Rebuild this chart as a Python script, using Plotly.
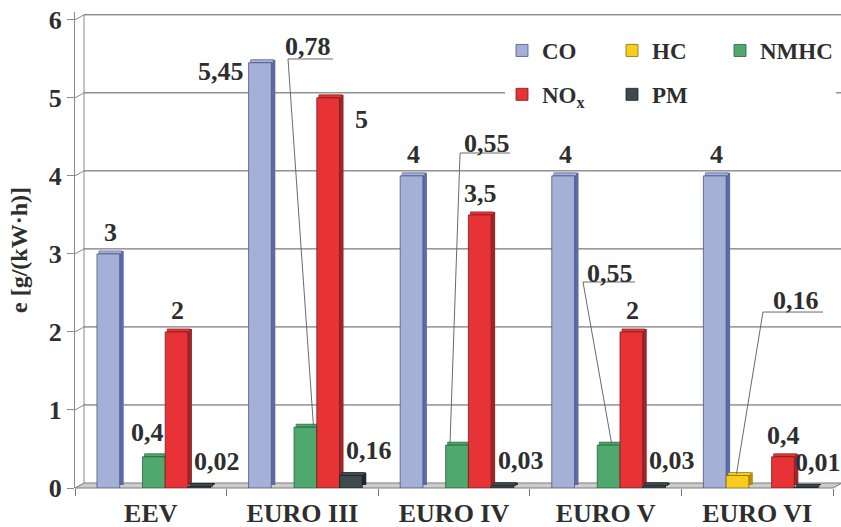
import plotly.graph_objects as go

# ---- data -------------------------------------------------------------
categories = ["EEV", "EURO III", "EURO IV", "EURO V", "EURO VI"]
co = [3, 5.45, 4, 4, 4]
hc = [None, None, None, None, 0.16]
nmhc = [0.4, 0.78, 0.55, 0.55, None]
nox = [2, 5, 3.5, 2, 0.4]
pm = [0.02, 0.16, 0.03, 0.03, 0.01]
y_tick_values = [0, 1, 2, 3, 4, 5, 6]

# key, legend text, values, front colour, side colour, edge colour
series = [
    ("CO", "CO", co, "#a4b0d6", "#5d6aa8", "#4b568c"),
    ("HC", "HC", hc, "#f9cd1d", "#b98f12", "#8a6a0a"),
    ("NMHC", "NMHC", nmhc, "#4fa96f", "#2e7a49", "#2a5e3a"),
    ("NOx", "NO<sub>x</sub>", nox, "#e83336", "#9c2729", "#7a1e20"),
    ("PM", "PM", pm, "#3d4b4f", "#1e2729", "#1a2224"),
]
# legend column of each series (two rows of entries)
legend_of = {"CO": "legend", "NOx": "legend", "HC": "legend2", "PM": "legend2",
             "NMHC": "legend3"}

# ---- page geometry ----------------------------------------------------
W, H = 841, 527
ML, MR, MT, MB = 75, 8, 12, 39
plot_w = W - ML - MR
plot_h = H - MT - MB
y_max = 6.1
px_per_cat = plot_w / len(categories)
px_per_unit = plot_h / y_max
Y0 = MT + plot_h  # pixel row of value 0

slot = 0.15        # bar width in category units
shift = 0.02       # group nudged right for the perspective
depth_x = 4 / px_per_cat
depth_y = 3 / px_per_unit
wall_dx, wall_dy = 9, 5  # offset of the back wall in pixels

FONT = "Liberation Serif"
INK = "#2e2e2e"


def xp(px):
    return (px - ML) / plot_w


def yp(py):
    return (Y0 - py) / plot_h


def fmt(v):
    return f"{v:g}".replace(".", ",")


def bold(s):
    return f"<b>{s}</b>"


def bar_x(k, i):
    return i + (k - 2) * slot + shift


fig = go.Figure()

# ---- bars: side face, top face, then front face per series -------------
for k, (key, label, vals, front, side, edge) in enumerate(series):
    off = (k - 2) * slot + shift - slot / 2
    fig.add_bar(
        x=categories, y=vals, base=depth_y, offset=off + depth_x, width=slot,
        marker=dict(color=side, line=dict(width=0)),
        showlegend=False, hoverinfo="skip",
    )
    fig.add_bar(
        x=categories,
        y=[depth_y if v is not None else None for v in vals],
        base=[v if v is not None else 0 for v in vals],
        offset=off + depth_x / 2, width=slot,
        marker=dict(color=front, line=dict(color=edge, width=0.6)),
        showlegend=False, hoverinfo="skip",
    )
    fig.add_bar(
        x=categories, y=vals, offset=off, width=slot, name=bold(label),
        marker=dict(color=front, line=dict(color=edge, width=0.8)),
        legend=legend_of[key], legendgroup=key,
    )

# ---- value labels -------------------------------------------------------
# placement: (xanchor, xshift px, yshift px) relative to the front top of a bar
default_place = {
    "CO": ("center", 2, 21),
    "HC": ("center", 0, 21),
    "NMHC": ("center", -6, 24),
    "NOx": ("center", 1, 21),
    "PM": ("center", 18, 25),
}
special_place = {
    ("CO", 1): ("right", -(slot * px_per_cat) / 2 - 3, -9),
    ("NOx", 1): ("left", (slot * px_per_cat) / 2 + 13, -22),
    ("PM", 4): ("center", 12, 25),
}
# labels set apart with a rule and a leader line:
# (text x, text y, rule x0, rule x1, rule y, tip offset px)
callouts = {
    ("NMHC", 1): (1.037, 5.652, 0.905, 1.202, 5.498, 8),
    ("NMHC", 2): (2.218, 4.421, 2.040, 2.369, 4.293, -7),
    ("NMHC", 3): (3.029, 2.755, 2.851, 3.194, 2.640, 3),
    ("HC", 4): (4.256, 2.409, 4.038, 4.434, 2.255, -1),
}

annotations = []
shapes = []
label_font = dict(family=FONT, size=26, color=INK)

for k, (key, label, vals, front, side, edge) in enumerate(series):
    for i, v in enumerate(vals):
        if v is None:
            continue
        bx = bar_x(k, i)
        if (key, i) in callouts:
            tx, ty, r0, r1, ry, tip = callouts[(key, i)]
            annotations.append(dict(
                x=tx, y=ty, xref="x", yref="y", text=bold(fmt(v)), showarrow=False,
                xanchor="center", yanchor="middle", font=label_font,
            ))
            shapes.append(dict(type="line", xref="x", yref="y", x0=r0, x1=r1,
                               y0=ry, y1=ry, line=dict(color="#6a6a6a", width=1),
                               layer="above"))
            shapes.append(dict(type="line", xref="x", yref="y", x0=r0, y0=ry,
                               x1=bx + tip / px_per_cat, y1=v + depth_y / 2,
                               line=dict(color="#6a6a6a", width=1), layer="above"))
            continue
        anchor, dx, dy = special_place.get((key, i), default_place[key])
        annotations.append(dict(
            x=bx, y=v, xref="x", yref="y", text=bold(fmt(v)), showarrow=False,
            xanchor=anchor, yanchor="middle", xshift=dx, yshift=dy, font=label_font,
        ))

# ---- floor, back wall and its grid ---------------------------------------
right_px = ML + plot_w
shapes.append(dict(
    type="path", xref="paper", yref="paper", layer="below",
    path=(f"M{xp(ML)},{yp(Y0)} L{xp(right_px)},{yp(Y0)} "
          f"L{xp(right_px + wall_dx)},{yp(Y0 - wall_dy)} "
          f"L{xp(ML + wall_dx)},{yp(Y0 - wall_dy)} Z"),
    fillcolor="#cdcdcd", line=dict(color="#7a7a7a", width=1),
))
top_px = Y0 - max(y_tick_values) * px_per_unit
shapes.append(dict(type="line", xref="paper", yref="paper", layer="below",
                   x0=xp(ML + wall_dx), x1=xp(ML + wall_dx),
                   y0=yp(Y0 - wall_dy), y1=yp(top_px - wall_dy),
                   line=dict(color="#8a8a8a", width=1)))
for t in y_tick_values[1:]:
    py = Y0 - t * px_per_unit
    shapes.append(dict(type="line", xref="paper", yref="paper", layer="below",
                       x0=xp(ML + wall_dx), x1=xp(W + 2),
                       y0=yp(py - wall_dy), y1=yp(py - wall_dy),
                       line=dict(color="#5a5a5a", width=1)))
    shapes.append(dict(type="line", xref="paper", yref="paper", layer="below",
                       x0=xp(ML), x1=xp(ML + wall_dx),
                       y0=yp(py), y1=yp(py - wall_dy),
                       line=dict(color="#8a8a8a", width=1)))
# white panel behind the legend
shapes.append(dict(type="rect", xref="paper", yref="paper", layer="below",
                   x0=xp(505), x1=xp(836), y0=yp(120), y1=yp(24),
                   fillcolor="white", line=dict(width=0)))

legend_common = dict(
    orientation="v", xanchor="left", yanchor="top",
    traceorder="grouped", tracegroupgap=11,
    font=dict(family=FONT, size=23, color=INK),
    bgcolor="rgba(0,0,0,0)",
)

fig.update_layout(
    width=W, height=H,
    margin=dict(l=ML, r=MR, t=MT, b=MB, pad=0, autoexpand=False),
    paper_bgcolor="white", plot_bgcolor="white",
    barmode="overlay",
    showlegend=True,
    legend=dict(legend_common, x=xp(502), y=yp(29)),
    legend2=dict(legend_common, x=xp(612), y=yp(29)),
    legend3=dict(legend_common, x=xp(720), y=yp(29)),
    annotations=annotations,
    shapes=shapes,
    xaxis=dict(
        type="category", range=[-0.5, len(categories) - 0.5],
        automargin=False,
        tickson="boundaries", ticks="outside", ticklen=7, tickcolor="#7a7a7a",
        showline=False, showgrid=False, zeroline=False,
        tickvals=categories, ticktext=[bold(c) for c in categories],
        tickfont=dict(family=FONT, size=26, color=INK),
        ticklabelstandoff=7,
    ),
    yaxis=dict(
        range=[0, y_max], tickvals=y_tick_values, automargin=False,
        ticktext=[bold(t) for t in y_tick_values],
        showgrid=False, zeroline=False,
        showline=True, linecolor="#8a8a8a", linewidth=1,
        ticks="outside", ticklen=7, tickcolor="#8a8a8a",
        tickfont=dict(family=FONT, size=26, color=INK),
        title=dict(text=bold("e [g/(kW·h)]"), standoff=14,
                   font=dict(family=FONT, size=24, color=INK)),
    ),
)

fig.write_html("out.html")
